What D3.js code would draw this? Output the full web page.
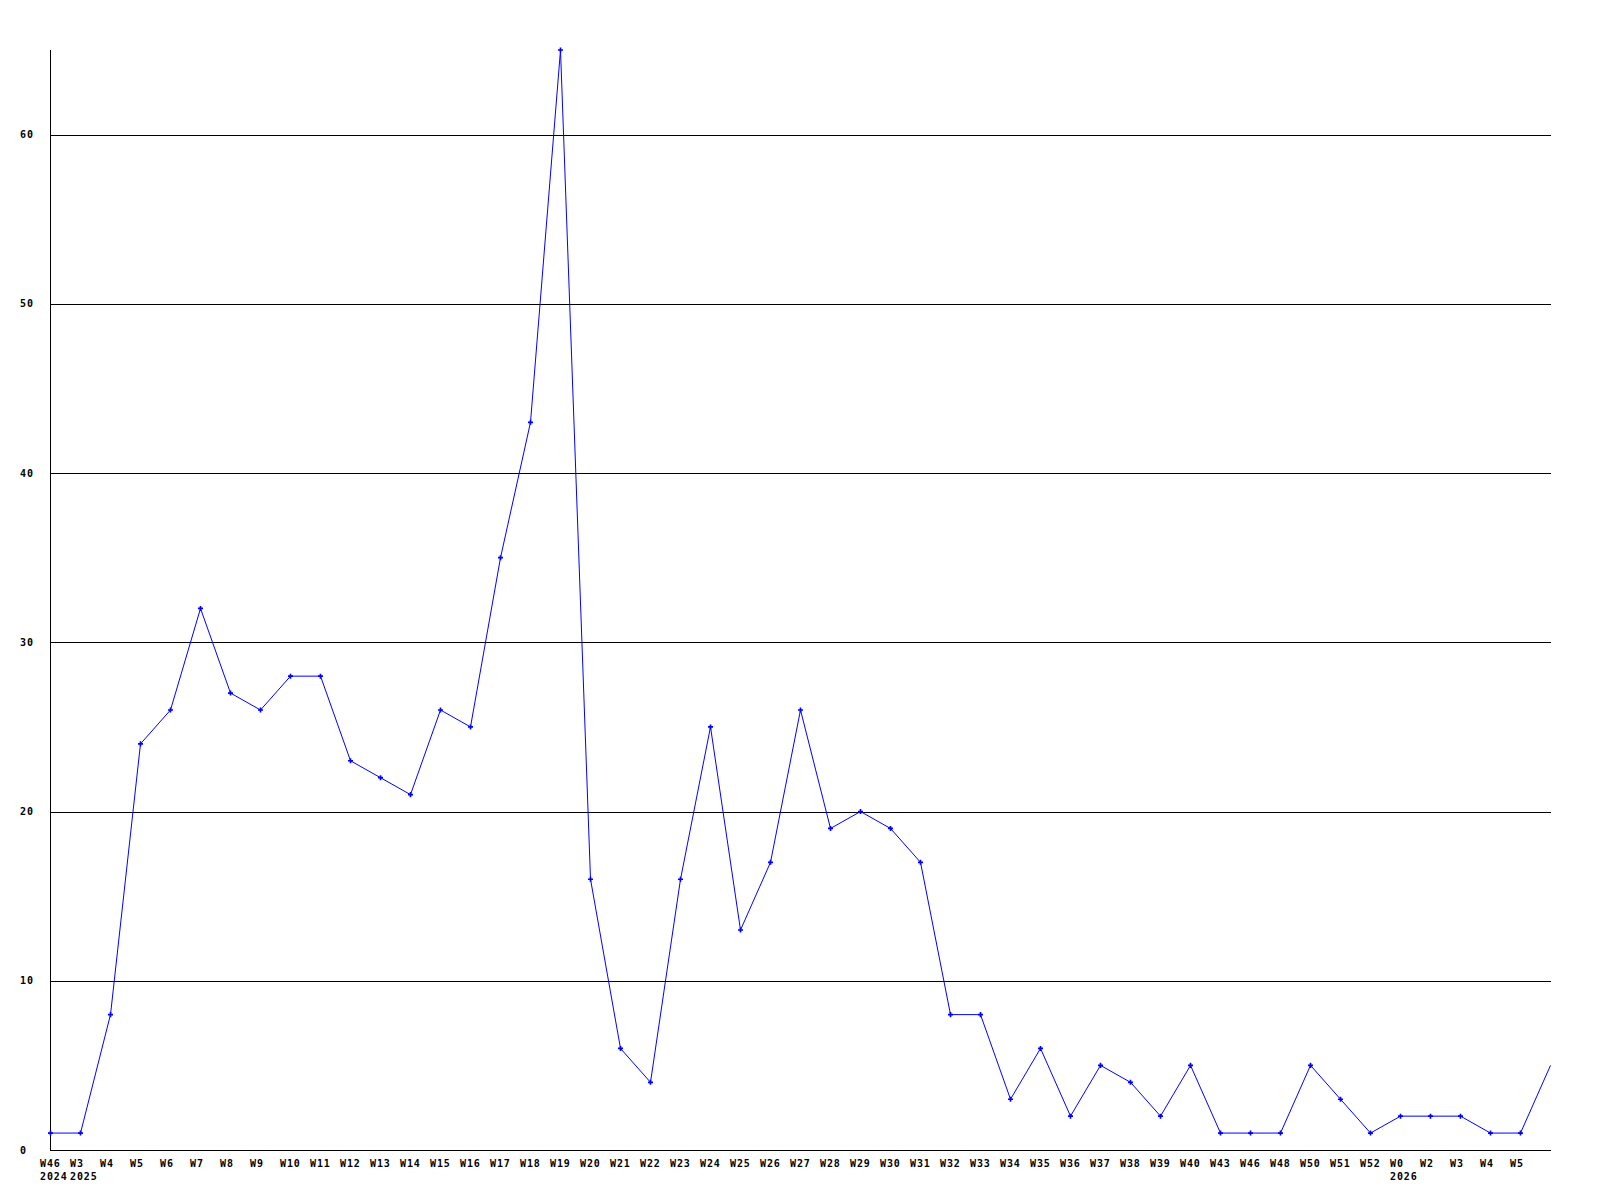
<!DOCTYPE html>
<html>
<head>
<meta charset="utf-8">
<script src="https://cdn.jsdelivr.net/npm/d3@7"></script>
<style>
  body { margin: 0; background: #fff; }
  text { font-family: "DejaVu Sans Mono", monospace; font-weight: bold; font-size: 10px; letter-spacing: 0.9px; fill: #000; }
</style>
</head>
<body>
<div id="chart"></div>
<script>
(function () {

  // week labels (last point has no label)
  var weeks = ["W46", "W3", "W4", "W5", "W6", "W7", "W8", "W9", "W10", "W11", "W12", "W13", "W14",
    "W15", "W16", "W17", "W18", "W19", "W20", "W21", "W22", "W23", "W24", "W25", "W26", "W27",
    "W28", "W29", "W30", "W31", "W32", "W33", "W34", "W35", "W36", "W37", "W38", "W39", "W40",
    "W43", "W46", "W48", "W50", "W51", "W52", "W0", "W2", "W3", "W4", "W5", ""]

  var counts = [1, 1, 8, 24, 26, 32, 27, 26, 28, 28, 23, 22, 21, 26, 25, 35, 43, 65, 16, 6, 4,
    16, 25, 13, 17, 26, 19, 20, 19, 17, 8, 8, 3, 6, 2, 5, 4, 2, 5, 1, 1, 1, 5, 3, 1, 2, 2, 2, 1, 1, 5]

  // year labels sit under the week where the year starts
  var years = [{ i: 0, label: "2024" }, { i: 1, label: "2025" }, { i: 45, label: "2026" }]

  var yTicks = [0, 10, 20, 30, 40, 50, 60]

  var margin = { top: 50, right: 49, bottom: 50, left: 50 }
  var width = 1600 - margin.left - margin.right,
      height = 1200 - margin.top - margin.bottom

  var svg = d3.select("#chart").append("svg")
      .attr("width", 1600)
      .attr("height", 1200)
      .append("g")
      .attr("transform", "translate(" + margin.left + "," + margin.top + ")")

  var x = d3.scaleLinear()
      .domain([0, counts.length - 1])
      .range([0, 1500])

  var y = d3.scaleLinear()
      .domain([0, d3.max(counts)])
      .range([height, 0])

  // horizontal grid lines
  svg.selectAll(".grid")
    .data(yTicks.slice(1))
    .enter().append("line")
    .attr("class", "grid")
    .attr("x1", 0)
    .attr("x2", x(counts.length - 1) + 1)
    .attr("y1", function(d) { return Math.round(y(d)) + 0.5 })
    .attr("y2", function(d) { return Math.round(y(d)) + 0.5 })
    .attr("stroke", "#000")
    .attr("stroke-width", 1)

  // axes lines
  svg.append("line")
    .attr("x1", 0.5).attr("x2", 0.5)
    .attr("y1", 0).attr("y2", height + 0.5)
    .attr("stroke", "#000")
  svg.append("line")
    .attr("x1", 0).attr("x2", x(counts.length - 1) + 1)
    .attr("y1", height + 0.5).attr("y2", height + 0.5)
    .attr("stroke", "#000")

  // y labels
  svg.selectAll(".y-label")
    .data(yTicks)
    .enter().append("text")
    .attr("class", "y-label")
    .attr("x", -30)
    .attr("y", function(d) { return y(d) })
    .attr("dy", "0.35em")
    .text(function(d) { return d })

  // x labels
  svg.selectAll(".x-label")
    .data(weeks)
    .enter().append("text")
    .attr("class", "x-label")
    .attr("x", function(d, i) { return x(i) - 10 })
    .attr("y", height + 17)
    .text(function(d) { return d })

  svg.selectAll(".year-label")
    .data(years)
    .enter().append("text")
    .attr("class", "year-label")
    .attr("x", function(d) { return x(d.i) - 10 })
    .attr("y", height + 30)
    .text(function(d) { return d.label })

  var line = d3.line()
      .x(function(d, i) { return x(i) + 0.5 })
      .y(function(d) { return y(d) })

  svg.append("path")
    .datum(counts)
    .attr("d", line)
    .attr("fill", "none")
    .attr("stroke", "#0000ff")
    .attr("stroke-width", 1)

  // markers, last point has none
  svg.selectAll(".pt")
    .data(counts.slice(0, -1))
    .enter().append("path")
    .attr("class", "pt")
    .attr("d", d3.symbol().type(d3.symbolCross).size(14))
    .attr("transform", function(d, i) { return "translate(" + (x(i) + 0.5) + "," + y(d) + ")" })
    .attr("fill", "#0000ff")

})()
</script>
</body>
</html>
